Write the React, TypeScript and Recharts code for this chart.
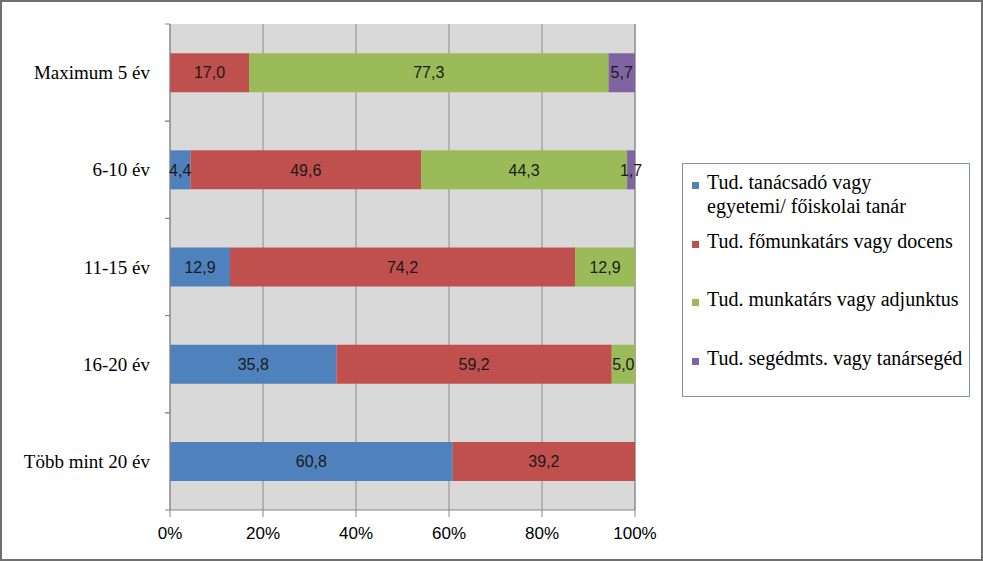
import { Bar, BarChart, CartesianGrid, LabelList, XAxis, YAxis } from 'recharts';

const categories = ['Maximum 5 év', '6-10 év', '11-15 év', '16-20 év', 'Több mint 20 év'];
const seriesNames = [
  'Tud. tanácsadó vagy\negyetemi/ főiskolai tanár',
  'Tud. főmunkatárs vagy docens',
  'Tud. munkatárs vagy adjunktus',
  'Tud. segédmts. vagy tanársegéd',
];
const seriesColors = ['#4f81bd', '#c0504d', '#9bbb59', '#8064a2'];
const tanacsado = [0, 4.4, 12.9, 35.8, 60.8];
const fomunkatars = [17.0, 49.6, 74.2, 59.2, 39.2];
const munkatars = [77.3, 44.3, 12.9, 5.0, 0];
const segedmts = [5.7, 1.7, 0, 0, 0];
const percentTicks = [0, 20, 40, 60, 80, 100];

const seriesValues = [tanacsado, fomunkatars, munkatars, segedmts];
const keys = ['s0', 's1', 's2', 's3'];

const data = categories.map((name, i) => {
  const row: Record<string, string | number> = { name };
  keys.forEach((k, j) => {
    row[k] = seriesValues[j][i];
  });
  return row;
});

const serif = '"Liberation Serif", "DejaVu Serif", serif';
const sans = '"Liberation Sans", Arial, sans-serif';
const axisGray = '#868686';
const TICK_MARGIN = 15;

const fmt = (v: any) => (v ? Number(v).toFixed(1).replace('.', ',') : '');

const CategoryTick = (props: any) => {
  const { x, y, payload } = props;
  const half = payload?.offset ?? 0;
  const lx = x + TICK_MARGIN;
  return (
    <g>
      <line x1={lx} x2={lx + 5} y1={y - half} y2={y - half} stroke={axisGray} />
      <line x1={lx} x2={lx + 5} y1={y + half} y2={y + half} stroke={axisGray} />
      <text x={x} y={y} dy="0.35em" textAnchor="end" fill="#000" fontSize={19} fontFamily={serif}>
        {payload.value}
      </text>
    </g>
  );
};

// gaps between legend entries, as in the original
const legendGaps = [0, 11, 34, 35];

const LegendBox = () => (
  <div
    style={{
      position: 'absolute',
      left: 680,
      top: 161,
      width: 288,
      height: 234,
      boxSizing: 'border-box',
      border: '1px solid #7f95b3',
      background: '#fff',
      paddingTop: 6,
      paddingLeft: 9,
      fontFamily: serif,
      fontSize: 20,
      color: '#000',
    }}
  >
    {seriesNames.map((n, i) => (
      <div key={n} style={{ display: 'flex', alignItems: 'flex-start', marginTop: legendGaps[i], lineHeight: '24px' }}>
        <span
          style={{
            width: 7,
            height: 7,
            background: seriesColors[i],
            marginTop: 12,
            marginRight: 8,
            flexShrink: 0,
          }}
        />
        <span style={{ whiteSpace: 'pre-line' }}>{n}</span>
      </div>
    ))}
  </div>
);

export default function App() {
  return (
    <div
      style={{
        position: 'absolute',
        left: 0,
        top: 0,
        width: 983,
        height: 561,
        boxSizing: 'border-box',
        border: '2px solid #707070',
        background: '#fff',
      }}
    >
      <BarChart
        width={979}
        height={557}
        data={data}
        layout="vertical"
        barCategoryGap="30%"
        margin={{ top: 22, right: 346, bottom: 19, left: 18 }}
      >
        <CartesianGrid horizontal={false} stroke="#8c8c8c" fill="#d9d9d9" />
        <XAxis
          type="number"
          domain={[0, 100]}
          ticks={percentTicks}
          interval={0}
          tickFormatter={(v) => `${v}%`}
          stroke={axisGray}
          tickSize={7}
          tickMargin={10}
          height={30}
          tick={{ fill: '#000', fontSize: 17, fontFamily: sans }}
        />
        <YAxis
          type="category"
          dataKey="name"
          width={150}
          stroke={axisGray}
          tickLine={false}
          tickSize={5}
          tickMargin={TICK_MARGIN}
          tick={<CategoryTick />}
          interval={0}
        />
        {keys.map((k, i) => (
          <Bar key={k} dataKey={k} name={seriesNames[i]} stackId="a" fill={seriesColors[i]} isAnimationActive={false}>
            <LabelList
              dataKey={k}
              position="center"
              formatter={fmt}
              fill="#1a1a1a"
              fontSize={16}
              fontFamily={sans}
            />
          </Bar>
        ))}
      </BarChart>
      <LegendBox />
    </div>
  );
}
